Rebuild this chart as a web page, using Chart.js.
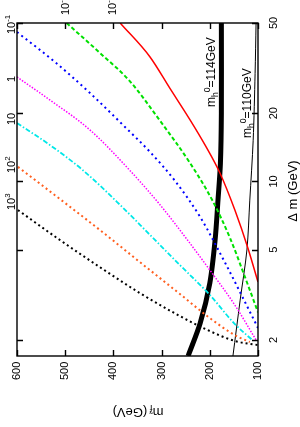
<!DOCTYPE html>
<html>
<head>
  <title>Lifetime contours</title>
  <script src="https://cdn.jsdelivr.net/npm/chart.js"></script>
  <style>
    body { margin: 0; background: #fff; }
    canvas { display: block; }
  </style>
</head>
<body>
<canvas id="lifeChart" width="300" height="427"></canvas>

<script>
  // contour curves: m_f (GeV) and delta m (GeV)
  const mf1e3 = [598, 511, 428, 345, 262, 200, 148, 100];
  const dm1e3 = [7.48, 5.52, 4.19, 3.22, 2.55, 2.19, 1.98, 1.9];
  const mf1e2 = [598, 511, 428, 345, 262, 200, 148, 117];
  const dm1e2 = [11.6, 8.37, 6.11, 4.41, 3.19, 2.5, 2.1, 1.96];
  const mf1e1 = [600, 532, 463, 386, 324, 262, 200, 148, 112];
  const dm1e1 = [18.1, 14.5, 11.2, 7.88, 5.81, 4.28, 3.16, 2.35, 2.0];
  const mf1e0 = [600, 532, 449, 366, 303, 251, 200, 148, 104];
  const dm1e0 = [28.9, 22.9, 16.9, 11.2, 7.88, 5.69, 4.07, 2.85, 2.0];
  const mf1em1 = [600, 521, 449, 376, 324, 272, 220, 168, 127, 100];
  const dm1em1 = [45.6, 33.6, 24.6, 17.4, 13.5, 10.05, 6.97, 4.37, 2.94, 2.26];
  const mf1em2 = [497, 428, 366, 303, 241, 195, 158, 127, 100];
  const dm1em2 = [50, 36.9, 27.7, 18.5, 12.06, 8.28, 5.63, 3.79, 2.65];
  const mf1em3 = [386, 324, 283, 241, 210, 179, 148, 121, 100];
  const dm1em3 = [50, 35.4, 25.8, 18.7, 14.5, 10.9, 7.48, 5.09, 3.6];
  // higgs mass bounds
  const mfH114 = [176, 176, 178, 183, 189, 200, 220, 245];
  const dmH114 = [50, 20, 12, 8.28, 5.52, 3.56, 2.37, 1.7];
  const mfH110 = [104, 106, 110, 117, 123, 137, 152];
  const dmH110 = [50, 30, 15.2, 8.28, 4.99, 3.0, 1.7];

  const mfTicks = [600, 500, 400, 300, 200, 100];
  const dmTicks = [2, 5, 10, 20, 50];
  const leftLabels = ['10^3', '10^2', '10', '1', '10^-1'];
  const topLabels = ['10^-2', '10^-3'];

  const FONT = '"Liberation Sans", Arial, sans-serif';

  function pts(xs, ys) {
    return xs.map((x, i) => ({ x: x, y: ys[i] }));
  }

  // split "10^-1" into base + superscript
  function parse(s) {
    const p = s.split('^');
    const out = [{ t: p[0] }];
    if (p[1]) out.push({ t: p[1], s: 'sup' });
    return out;
  }

  // draw text pieces (with sub/superscripts) rotated around (x, y)
  function rich(ctx, x, y, angle, parts, size, align) {
    ctx.save();
    ctx.translate(x, y);
    ctx.rotate(angle);
    ctx.textBaseline = 'alphabetic';
    ctx.textAlign = 'left';
    let w = 0;
    parts.forEach(p => {
      ctx.font = (p.s ? size * 0.72 : size) + 'px ' + FONT;
      w += ctx.measureText(p.t).width;
    });
    let cx = align === 'center' ? -w / 2 : 0;
    parts.forEach(p => {
      const fs = p.s ? size * 0.72 : size;
      ctx.font = fs + 'px ' + FONT;
      const dy = p.s === 'sup' ? -size * 0.42 : p.s === 'sub' ? size * 0.28 : 0;
      ctx.fillText(p.t, cx, dy);
      cx += ctx.measureText(p.t).width;
    });
    ctx.restore();
  }

  const framePlugin = {
    id: 'frame',
    afterDraw(chart) {
      const ctx = chart.ctx;
      const a = chart.chartArea;
      const xs = chart.scales.x;
      const ys = chart.scales.y;
      ctx.save();
      ctx.strokeStyle = '#000';
      ctx.fillStyle = '#000';
      ctx.lineWidth = 1.4;
      ctx.strokeRect(a.left, a.top, a.right - a.left, a.bottom - a.top);

      // tick marks, inside on all four sides
      ctx.beginPath();
      mfTicks.forEach(v => {
        const px = Math.round(xs.getPixelForValue(v)) + 0.5;
        ctx.moveTo(px, a.bottom); ctx.lineTo(px, a.bottom - 6);
        ctx.moveTo(px, a.top); ctx.lineTo(px, a.top + 6);
      });
      dmTicks.forEach(v => {
        const py = Math.round(ys.getPixelForValue(v)) + 0.5;
        ctx.moveTo(a.left, py); ctx.lineTo(a.left + 6, py);
        ctx.moveTo(a.right, py); ctx.lineTo(a.right - 6, py);
      });
      ctx.stroke();

      // tick labels, rotated like the rest of the figure
      ctx.font = '11px ' + FONT;
      ctx.textAlign = 'left';
      ctx.textBaseline = 'middle';
      mfTicks.forEach(v => {
        const px = xs.getPixelForValue(v);
        ctx.save();
        ctx.translate(px, a.bottom + 24);
        ctx.rotate(-Math.PI / 2);
        ctx.fillText(String(v), 0, 0);
        ctx.restore();
      });
      dmTicks.forEach(v => {
        rich(ctx, a.right + 19, ys.getPixelForValue(v), -Math.PI / 2, [{ t: String(v) }], 11, 'center');
      });

      // axis titles
      rich(ctx, a.right + 39, 191, -Math.PI / 2, [{ t: '\u0394 m (GeV)' }], 13, 'center');
      ctx.save();
      ctx.translate(138, 412);
      ctx.rotate(Math.PI);
      ctx.textBaseline = 'middle';
      ctx.textAlign = 'left';
      ctx.font = '13px ' + FONT;
      const w1 = ctx.measureText('m').width;
      ctx.font = '9.5px ' + FONT;
      const w2 = ctx.measureText('f\u0303 ').width;
      ctx.font = '13px ' + FONT;
      const w3 = ctx.measureText('(GeV)').width;
      let cx = -(w1 + w2 + w3) / 2;
      ctx.fillText('m', cx, 0); cx += w1;
      ctx.font = '9.5px ' + FONT;
      ctx.fillText('f\u0303', cx, 4); cx += w2;
      ctx.font = '13px ' + FONT;
      ctx.fillText('(GeV)', cx, 0);
      ctx.restore();

      // contour labels on the left and top edges
      const leftY = [210, 173, 125, 82, 34];
      leftLabels.forEach((s, i) => rich(ctx, a.left - 2, leftY[i], -Math.PI / 2, parse(s), 11, 'left'));
      const topX = [69, 116];
      topLabels.forEach((s, i) => rich(ctx, topX[i], 15, -Math.PI / 2, parse(s), 11, 'left'));

      // higgs mass labels
      const h114 = [{ t: 'm' }, { t: 'h', s: 'sub' }, { t: '0', s: 'sup' }, { t: '=114GeV' }];
      const h110 = [{ t: 'm' }, { t: 'h', s: 'sub' }, { t: '0', s: 'sup' }, { t: '=110GeV' }];
      rich(ctx, 215, 107, -Math.PI / 2, h114, 12, 'left');
      rich(ctx, 251, 138, -Math.PI / 2, h110, 12, 'left');
      ctx.restore();
    }
  };

  function curve(xs, ys, color, width, dash, smooth) {
    return {
      data: pts(xs, ys),
      borderColor: color,
      borderWidth: width,
      borderDash: dash,
      pointRadius: 0,
      cubicInterpolationMode: smooth ? 'monotone' : 'default',
      tension: 0.3,
      fill: false,
      clip: 0
    };
  }

  new Chart(document.getElementById('lifeChart'), {
    type: 'line',
    data: {
      datasets: [
        curve(mf1e3, dm1e3, '#000000', 2, [2, 3], true),
        curve(mf1e2, dm1e2, '#ff5f1f', 2, [2, 3], true),
        curve(mf1e1, dm1e1, '#00e8e8', 1.8, [5, 2, 1.5, 2], true),
        curve(mf1e0, dm1e0, '#ff00ff', 1.5, [1.5, 1.5], true),
        curve(mf1em1, dm1em1, '#0000ff', 2, [2, 3.5], true),
        curve(mf1em2, dm1em2, '#00e000', 2, [4, 2.5], true),
        curve(mf1em3, dm1em3, '#ff0000', 1.5, [], true),
        curve(mfH114, dmH114, '#000000', 5, [], false),
        curve(mfH110, dmH110, '#000000', 1, [], false)
      ]
    },
    options: {
      responsive: false,
      animation: false,
      layout: { padding: { left: 17, right: 42, top: 23, bottom: 71 } },
      plugins: { legend: { display: false }, tooltip: { enabled: false } },
      scales: {
        x: { type: 'linear', reverse: true, min: 100, max: 600, display: false },
        y: { type: 'logarithmic', position: 'right', min: 1.7, max: 50, display: false }
      }
    },
    plugins: [framePlugin]
  });
</script>
</body>
</html>
